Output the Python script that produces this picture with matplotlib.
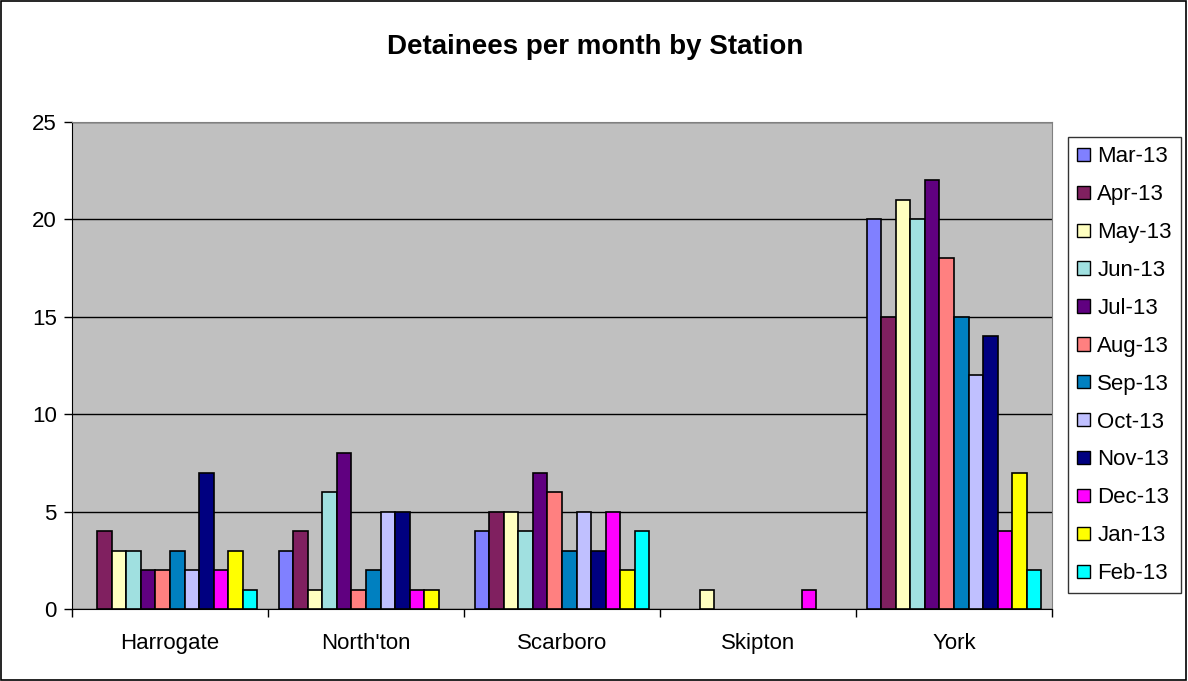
import matplotlib
matplotlib.use("Agg")
import matplotlib.pyplot as plt
import numpy as np
from matplotlib.patches import Rectangle, Patch

stations = ["Harrogate", "North'ton", "Scarboro", "Skipton", "York"]
months = ["Mar-13", "Apr-13", "May-13", "Jun-13", "Jul-13", "Aug-13",
          "Sep-13", "Oct-13", "Nov-13", "Dec-13", "Jan-13", "Feb-13"]
harrogate = [0, 4, 3, 3, 2, 2, 3, 2, 7, 2, 3, 1]
northton = [3, 4, 1, 6, 8, 1, 2, 5, 5, 1, 1, 0]
scarboro = [4, 5, 5, 4, 7, 6, 3, 5, 3, 5, 2, 4]
skipton = [0, 0, 1, 0, 0, 0, 0, 0, 0, 1, 0, 0]
york = [20, 15, 21, 20, 22, 18, 15, 12, 14, 4, 7, 2]
colors = ["#8080FF", "#802060", "#FFFFC0", "#A0E0E0", "#600080", "#FF8080",
          "#0080C0", "#C0C0FF", "#000080", "#FF00FF", "#FFFF00", "#00FFFF"]

plt.rcParams['font.family'] = ['Liberation Sans', 'DejaVu Sans']
data = np.array([harrogate, northton, scarboro, skipton, york], dtype=float)

fig = plt.figure(figsize=(11.88, 6.81), dpi=100)
fig.patches.append(Rectangle((0.001, 0.001), 0.997, 0.997, transform=fig.transFigure,
                             fill=False, edgecolor='black', linewidth=1.2))
ax = fig.add_axes([72/1188, 1-609/681, (1052-72)/1188, (609-122)/681])
ax.set_facecolor("#C0C0C0")

n = len(months)
width = 0.074
x = np.arange(len(stations))
for i in range(n):
    offs = (i - (n - 1) / 2) * width
    vals = data[:, i]
    ax.bar(x + offs, np.where(vals > 0, vals, np.nan), width, color=colors[i],
           edgecolor='black', linewidth=1.2, zorder=3, label=months[i])

ax.set_xlim(-0.5, len(stations) - 0.5)
ax.set_ylim(0, 25)
ax.set_yticks([0, 5, 10, 15, 20, 25])
ax.yaxis.grid(True, color='black', linewidth=1.0, zorder=1)
ax.set_axisbelow(True)
ax.set_xticks(np.arange(-0.5, len(stations)), minor=False)
ax.set_xticklabels([])
ax.set_xticks(x, minor=True)
ax.set_xticklabels(stations, minor=True, fontsize=16)
ax.tick_params(axis='x', which='minor', length=0, pad=17)
ax.tick_params(axis='x', which='major', length=6, direction='out', width=1)
ax.tick_params(axis='y', length=6, direction='out', width=1, labelsize=16, pad=5)
for s in ['top', 'right']:
    ax.spines[s].set_color('#808080')
for s in ['left', 'bottom']:
    ax.spines[s].set_color('black')

fig.text(595/1188, 1 - 47/681, "Detainees per month by Station",
         ha='center', va='center', fontsize=20, fontweight='bold')

handles = [Patch(facecolor=c, edgecolor='black', linewidth=1.0) for c in colors]
leg = fig.legend(handles, months, loc='upper left',
                 bbox_to_anchor=(1068/1188, 1 - 137/681), fontsize=16,
                 frameon=True, fancybox=False, edgecolor='black',
                 handlelength=0.55, handleheight=0.55, handletextpad=0.35,
                 labelspacing=0.76, borderpad=0.42, borderaxespad=0)
leg.get_frame().set_linewidth(1.0)

fig.savefig("out.png", dpi=100)
